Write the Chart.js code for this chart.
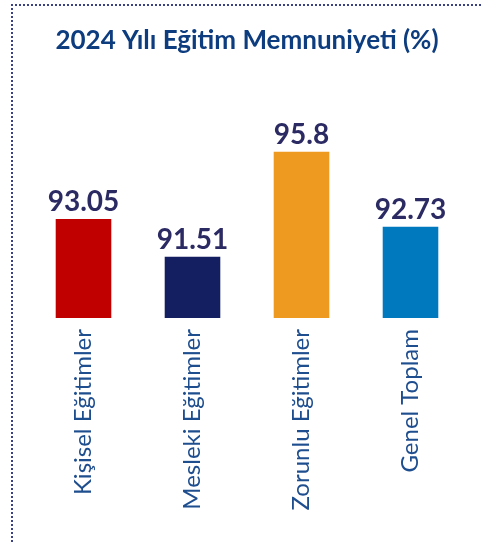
<!DOCTYPE html>
<html>
<head>
<meta charset="utf-8">
<script src="https://cdn.jsdelivr.net/npm/chart.js@4.4.1/dist/chart.umd.min.js"></script>
<style>
  html, body { margin: 0; padding: 0; background: #fff; }
  #wrap { position: relative; width: 481px; height: 545px; }
  #frame {
    position: absolute; left: 11px; top: 4px; right: 0; bottom: 3px;
    border-left: 2px dotted #3b4283; border-top: 2px dotted #3b4283;
    pointer-events: none;
  }
</style>
</head>
<body>
<div id="wrap">
  <canvas id="chart" width="481" height="545"></canvas>
  <div id="frame"></div>
</div>
<script>
const titleText = '2024 Yılı Eğitim Memnuniyeti (%)';
const categories = ['Kişisel Eğitimler', 'Mesleki Eğitimler', 'Zorunlu Eğitimler', 'Genel Toplam'];
const values = [93.05, 91.51, 95.8, 92.73];
const barColors = ['#c00000', '#141f62', '#ee991f', '#0079bf'];

// value labels above bars
const valueLabels = {
    id: 'valueLabels',
    afterDatasetsDraw(chart) {
        const ctx = chart.ctx;
        const meta = chart.getDatasetMeta(0);
        ctx.save();
        ctx.font = 'bold 28px Lato';
        ctx.fillStyle = '#2b2a63';
        ctx.textAlign = 'center';
        ctx.textBaseline = 'alphabetic';
        meta.data.forEach((bar, i) => {
            ctx.fillText(String(values[i]), bar.x, bar.y - 8);
        });
        ctx.restore();
    }
};

new Chart(document.getElementById('chart').getContext('2d'), {
    type: 'bar',
    data: {
        labels: categories,
        datasets: [{
            data: values,
            backgroundColor: barColors,
            barPercentage: 0.51,
            categoryPercentage: 1
        }]
    },
    options: {
        responsive: false,
        animation: false,
        layout: { padding: { left: 29, right: 16, top: 0, bottom: 0 } },
        plugins: {
            legend: { display: false },
            tooltip: { enabled: false },
            title: {
                display: true,
                text: titleText,
                color: '#0d3d7f',
                font: { family: 'Lato', size: 26, weight: 'bold', lineHeight: 1 },
                padding: { top: 28, bottom: 0 }
            }
        },
        scales: {
            y: { display: false, min: 89, max: 99.8 },
            x: {
                grid: { display: false },
                border: { display: false },
                ticks: {
                    color: '#1f4e8f',
                    font: { family: 'Lato', size: 24 },
                    minRotation: 90,
                    maxRotation: 90,
                    padding: 3,
                    autoSkip: false
                },
                afterFit: s => { s.height = 227; }
            }
        }
    },
    plugins: [valueLabels]
});
</script>
</body>
</html>
